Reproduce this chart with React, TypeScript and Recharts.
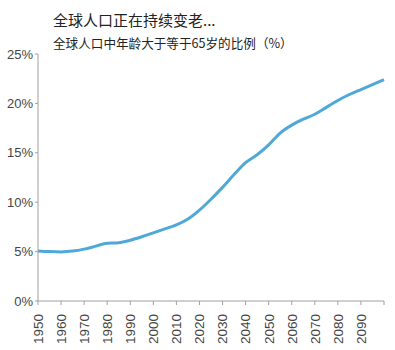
import { LineChart, Line, XAxis, YAxis } from "recharts";

const years = [1950, 1955, 1960, 1965, 1970, 1975, 1980, 1985, 1990, 1995, 2000, 2005, 2010, 2015, 2020, 2025, 2030, 2035, 2040, 2045, 2050, 2055, 2060, 2065, 2070, 2075, 2080, 2085, 2090, 2095, 2100];
const share65 = [5.07, 5.0, 4.97, 5.05, 5.25, 5.55, 5.85, 5.9, 6.15, 6.5, 6.9, 7.3, 7.7, 8.3, 9.2, 10.3, 11.5, 12.8, 14.0, 14.8, 15.8, 17.0, 17.8, 18.4, 18.9, 19.6, 20.3, 20.9, 21.4, 21.9, 22.4];
const xTicks = [1950, 1960, 1970, 1980, 1990, 2000, 2010, 2020, 2030, 2040, 2050, 2060, 2070, 2080, 2090, 2100];
const yTicks = [0, 5, 10, 15, 20, 25];

const data = years.map((y, i) => ({ year: y, v: share65[i] }));

const font = "'Liberation Sans', Arial, sans-serif";

function YearTick(props: any) {
  const { x, y, payload } = props;
  if (payload.value === 2100) return null;
  return (
    <text
      x={0}
      y={0}
      transform={`translate(${x},${y + 7}) rotate(-90)`}
      textAnchor="end"
      dy="0.36em"
      fontSize={13.5}
      fill="#444"
      fontFamily={font}
    >
      {payload.value}
    </text>
  );
}

export default function App() {
  return (
    <div style={{ position: "absolute", left: 0, top: 0, width: 395, height: 350, background: "#fff" }}>
      <div style={{ position: "absolute", left: 53, top: 9, fontSize: 15, color: "#222", fontFamily: "'Noto Sans CJK SC', sans-serif", lineHeight: "22px" }}>
        全球人口正在持续变老...
      </div>
      <div style={{ position: "absolute", left: 53, top: 33, fontSize: 12.6, color: "#222", fontFamily: "'Noto Sans CJK SC', sans-serif", lineHeight: "20px" }}>
        全球人口中年龄大于等于65岁的比例（%）
      </div>
      <LineChart width={395} height={350} data={data} margin={{ top: 54, right: 11, bottom: 0, left: 0 }}>
        <XAxis
          dataKey="year"
          type="number"
          domain={[1950, 2100]}
          ticks={xTicks}
          interval={0}
          tick={<YearTick />}
          tickSize={4}
          height={49}
          stroke="#a0a0a0"
          tickLine={{ stroke: "#a0a0a0" }}
        />
        <YAxis
          domain={[0, 25]}
          ticks={yTicks}
          tickFormatter={(v: number) => `${v}%`}
          width={38}
          tickSize={3}
          stroke="#a0a0a0"
          tick={{ fontSize: 13, fill: "#444", fontFamily: font }}
        />
        <Line type="monotone" dataKey="v" stroke="#4ea9d9" strokeWidth={3} dot={false} isAnimationActive={false} />
      </LineChart>
    </div>
  );
}
